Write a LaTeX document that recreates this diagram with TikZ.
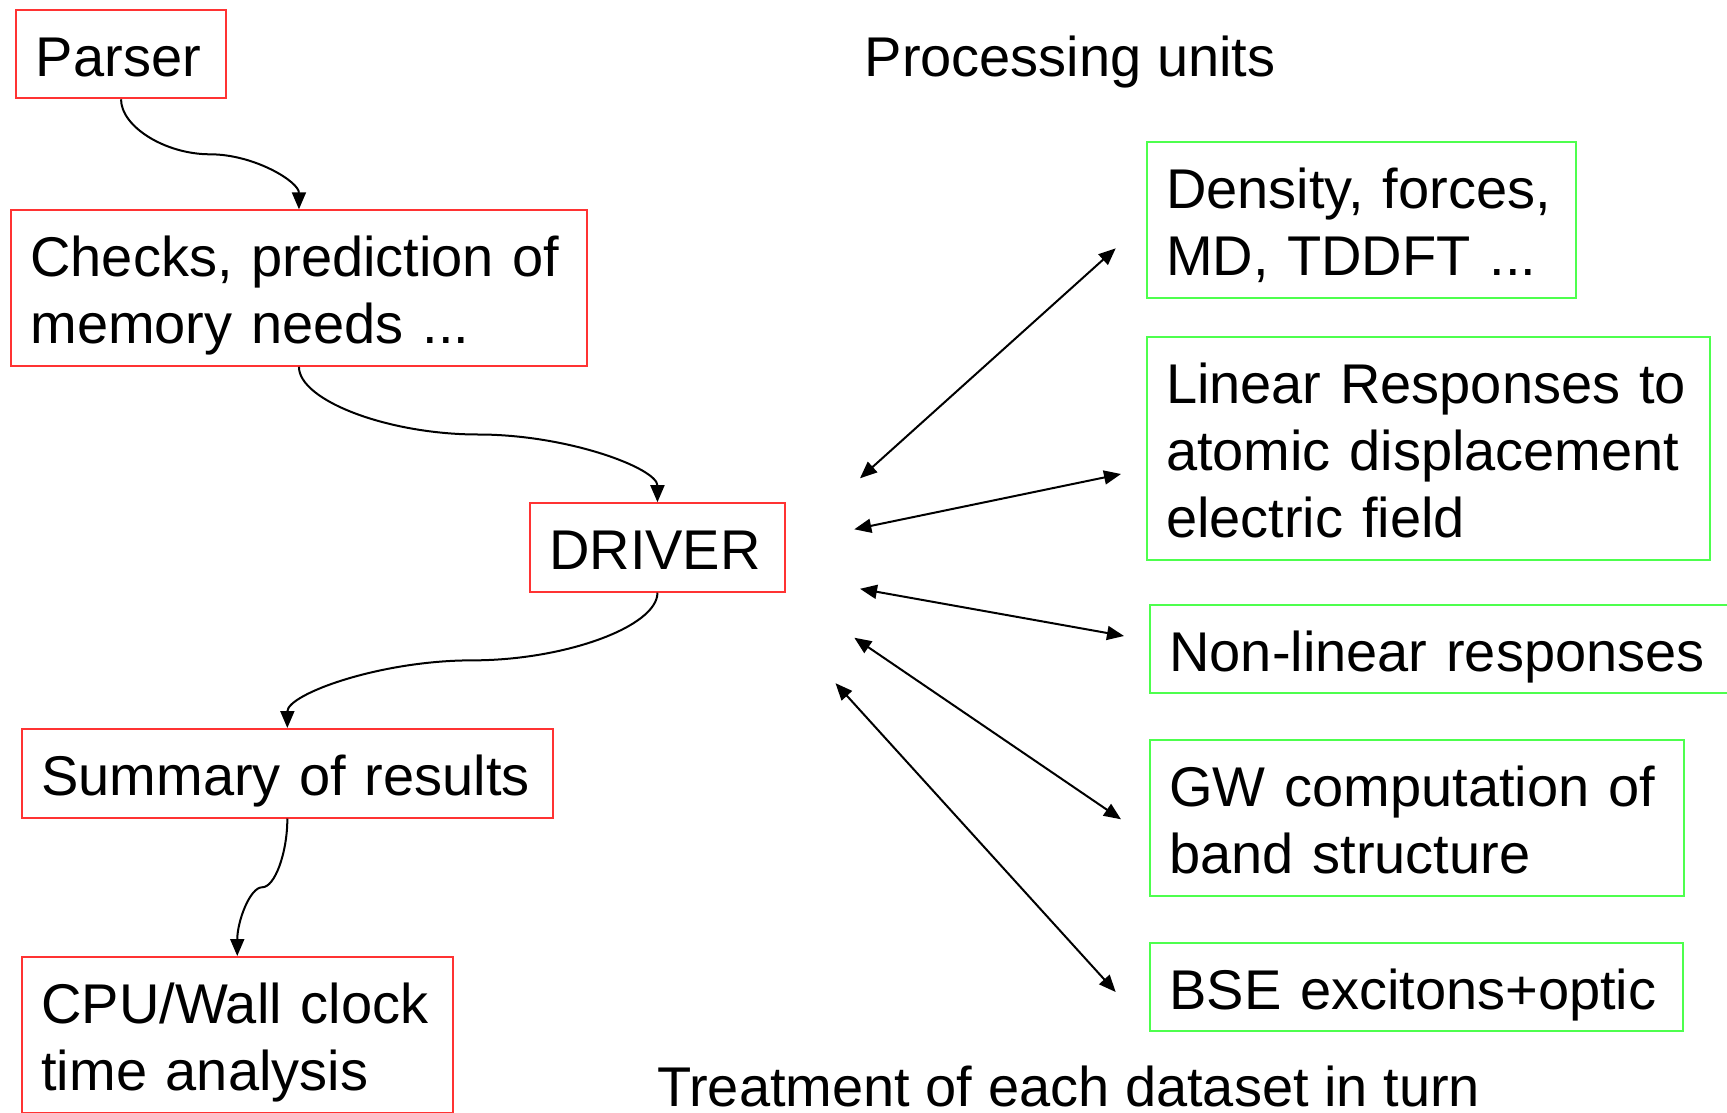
\documentclass[tikz,border=0pt]{standalone}
\usepackage{fontspec}
\setmainfont{Liberation Sans}
\usetikzlibrary{arrows.meta,calc}
\definecolor{boxred}{RGB}{255,51,51}
\definecolor{boxgreen}{RGB}{77,255,77}
\newcommand\topstrut{\rule{0pt}{66.5pt}}
\newcommand\botstrut{\rule[-22pt]{0pt}{22pt}}
\begin{document}
\begin{tikzpicture}[x=1pt,y=-1pt,
  every node/.style={font=\fontsize{56}{67}\selectfont},
  tbox/.style={draw, line width=2pt, rectangle, anchor=north west, inner xsep=19.5pt, inner ysep=0pt, align=left},
  redbox/.style={tbox, draw=boxred},
  greenbox/.style={tbox, draw=boxgreen},
  plain/.style={anchor=base west, inner sep=0pt},
  ah/.tip={Triangle[length=17pt,width=14pt]},
  conn/.style={line width=2pt, -ah},
  dconn/.style={line width=2pt, ah-ah},
  scurve/.style={to path={let \p1=(\tikztostart), \p2=(\tikztotarget) in
     .. controls (\x1,{(3*\y1+\y2)/4}) and ({(3*\x1+\x2)/4},{(\y1+\y2)/2})
     .. ({(\x1+\x2)/2},{(\y1+\y2)/2})
     .. controls ({(\x1+3*\x2)/4},{(\y1+\y2)/2}) and (\x2,{(\y1+3*\y2)/4})
     .. (\tikztotarget)}}]
\useasboundingbox[fill=white] (0,0) rectangle (1727,1113);

% left column (red boxes)
\node[redbox, text width=170.3pt] (parser) at (15.4,8.8) {\topstrut Parser\botstrut};
\node[redbox, text width=537.1pt] (checks) at (9.9,209.3) {\topstrut Checks, prediction of\\memory needs ...\botstrut};
\node[redbox, text width=216.5pt] (driver) at (528.7,502.2) {\topstrut DRIVER\botstrut};
\node[redbox, text width=491.9pt] (summary) at (20.9,728) {\topstrut Summary of results\botstrut};
\node[redbox, text width=391.7pt] (cpu) at (20.9,956) {\topstrut CPU/Wall clock\\time analysis\botstrut};

% right column (green boxes)
\node[greenbox, text width=390.5pt] (density) at (1145.5,141) {\topstrut Density, forces,\\MD, TDDFT ...\botstrut};
\node[greenbox, text width=524.9pt] (linear) at (1145.5,336) {\topstrut Linear Responses to\\atomic displacement\\electric field\botstrut};
\node[greenbox, text width=581pt] (nonlinear) at (1148.8,603.6) {\topstrut Non-linear responses\botstrut};
\node[greenbox, text width=495.2pt] (gw) at (1148.8,739) {\topstrut GW computation of\\band structure\botstrut};
\node[greenbox, text width=494pt] (bse) at (1148.8,941.7) {\topstrut BSE excitons+optic\botstrut};

% titles
\node[plain] (proc) at (864.5,77) {Processing units};
\node[plain] (treat) at (657,1106.5) {Treatment of each dataset in turn};

% curved connectors
\draw[conn] (parser.south) to[scurve] (checks.north);
\draw[conn] (checks.south) to[scurve] (driver.north);
\draw[conn] (driver.south) to[scurve] (summary.north);
\draw[conn] (summary.south) to[scurve] (cpu.north);

% double arrows
\coordinate (a1s) at (860,478.3);   \coordinate (a1e) at (1115.7,248.3);
\coordinate (a2s) at (854.3,529.3); \coordinate (a2e) at (1121,474);
\coordinate (a3s) at (860,588.8);   \coordinate (a3e) at (1124,636);
\coordinate (a4s) at (854.3,637.7); \coordinate (a4e) at (1121,819.3);
\coordinate (a5s) at (835.5,683.2); \coordinate (a5e) at (1115.7,992);
\draw[dconn] (a1s) -- (a1e);
\draw[dconn] (a2s) -- (a2e);
\draw[dconn] (a3s) -- (a3e);
\draw[dconn] (a4s) -- (a4e);
\draw[dconn] (a5s) -- (a5e);
\end{tikzpicture}
\end{document}
